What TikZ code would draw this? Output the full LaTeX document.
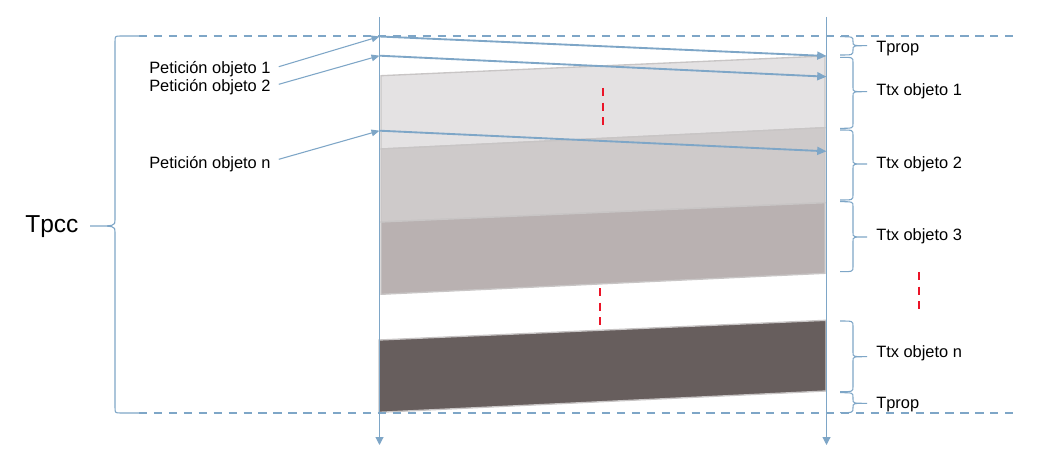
\documentclass[tikz,border=0pt]{standalone}
\usepackage{fontspec}
\setmainfont{Liberation Sans}
\usetikzlibrary{arrows.meta}
\definecolor{lblue}{RGB}{126,166,199}
\definecolor{bandA}{RGB}{228,226,227}
\definecolor{bandB}{RGB}{206,202,202}
\definecolor{bandC}{RGB}{185,177,177}
\definecolor{bandN}{RGB}{103,94,93}
\definecolor{bandedge}{RGB}{200,197,197}
\definecolor{gapred}{RGB}{235,20,40}
\newcommand\mybraceR[4]{%
  \draw[brc] (#1,#2) .. controls ({#1+13},#2) .. ({#1+13},{#2+5}) -- ({#1+13},{#4-4})
    .. controls ({#1+13},#4) .. ({#1+27},#4) .. controls ({#1+13},#4) .. ({#1+13},{#4+4})
    -- ({#1+13},{#3-5}) .. controls ({#1+13},#3) .. (#1,#3);}
\begin{document}
\begin{tikzpicture}[x=0.75pt,y=-0.75pt,
  lifeline/.style={draw=lblue, line width=0.8pt, -{Triangle[length=6pt,width=6pt]}},
  msg/.style={draw=lblue, line width=1.4pt, -{Triangle[length=7pt,width=6pt]}},
  req/.style={draw=lblue, line width=0.8pt, -{Triangle[length=6pt,width=5pt]}},
  bound/.style={draw=lblue, line width=1.5pt, dash pattern=on 6.2pt off 5pt},
  gap/.style={draw=gapred, line width=1.5pt, dash pattern=on 6pt off 5pt},
  band/.style={draw=bandedge, line width=1pt},
  brc/.style={draw=lblue, line width=0.8pt},
  lbl/.style={font=\fontsize{12.3}{14}\selectfont, inner sep=0pt, text=black},
  big/.style={font=\fontsize{18.4}{22}\selectfont, inner sep=0pt, text=black}]
\useasboundingbox (0,0) rectangle (1044,466);
\fill[white] (0,0) rectangle (1044,466);

% bands
\draw[band, fill=bandA] (381,75.7) -- (825,56) -- (825,127.7) -- (381,149) -- cycle;
\draw[band, fill=bandB] (381,149) -- (825,127.7) -- (825,202.7) -- (381,222) -- cycle;
\draw[band, fill=bandC] (381,222) -- (825,202.7) -- (825,273.3) -- (381,294.3) -- cycle;
\draw[band, fill=bandN] (379,340) -- (826,320.3) -- (826,391) -- (379,412.3) -- cycle;

% lifelines
\coordinate (L0) at (379.5,17);
\coordinate (L1) at (379.5,445);
\coordinate (R0) at (826.5,17);
\coordinate (R1) at (826.5,445);
\draw[lifeline] (L0) -- (L1);
\draw[lifeline] (R0) -- (R1);

% boundary dashed lines
\coordinate (BTl) at (139,36);
\coordinate (BTr) at (1015,36);
\coordinate (BBl) at (139,413);
\coordinate (BBr) at (1015,413);
\draw[bound] (BTl) -- (BTr);
\draw[bound] (BBl) -- (BBr);

% messages
\coordinate (q1) at (379.5,36.5);
\coordinate (q2) at (379.5,55.7);
\coordinate (qn) at (379.5,130.7);
\coordinate (d1) at (826.5,56);
\coordinate (d2) at (826.5,76.7);
\coordinate (dn) at (826.5,151.3);
\draw[msg] (q1) -- (d1);
\draw[msg] (q2) -- (d2);
\draw[msg] (qn) -- (dn);

% request labels
\node[lbl, anchor=base west] (p1) at (149,73.3) {Petición objeto 1};
\node[lbl, anchor=base west] (p2) at (149,91.7) {Petición objeto 2};
\node[lbl, anchor=base west] (pn) at (149,169) {Petición objeto n};
\draw[req] ([shift={(8,-6.6)}]p1.base east) -- (q1);
\draw[req] ([shift={(8,-7.4)}]p2.base east) -- (q2);
\draw[req] ([shift={(8,-9.7)}]pn.base east) -- (qn);

% red gap marks
\coordinate (g1a) at (603.3,88);
\coordinate (g1b) at (603.3,126);
\coordinate (g2a) at (600,288);
\coordinate (g2b) at (600,326);
\coordinate (g3a) at (919,272);
\coordinate (g3b) at (919,310);
\draw[gap] (g1a) -- (g1b);
\draw[gap] (g2a) -- (g2b);
\draw[gap] (g3a) -- (g3b);

% right braces
\mybraceR{840}{36.7}{55}{45.7}
\mybraceR{840}{57.3}{128.3}{91.7}
\mybraceR{840}{130}{200}{164}
\mybraceR{840}{201.7}{271.7}{237}
\mybraceR{840}{321}{391.7}{356.7}
\mybraceR{840}{392.7}{412.7}{403.3}

\node[lbl, anchor=base west] (t0) at (876,52.7) {Tprop};
\node[lbl, anchor=base west] (t1) at (876,96) {Ttx objeto 1};
\node[lbl, anchor=base west] (t2) at (876,168.3) {Ttx objeto 2};
\node[lbl, anchor=base west] (t3) at (876,240.7) {Ttx objeto 3};
\node[lbl, anchor=base west] (tn) at (876,357.7) {Ttx objeto n};
\node[lbl, anchor=base west] (t9) at (876,408.3) {Tprop};

% left big brace
\draw[brc] (139,36) -- (121,36) .. controls (115,36) .. (115,42) -- (115,220)
  .. controls (115,226) .. (90,226) .. controls (115,226) .. (115,232) -- (115,407)
  .. controls (115,413) .. (121,413) -- (139,413);
\node[big, anchor=base west] (tpcc) at (25,233) {Tpcc};
\end{tikzpicture}
\end{document}
